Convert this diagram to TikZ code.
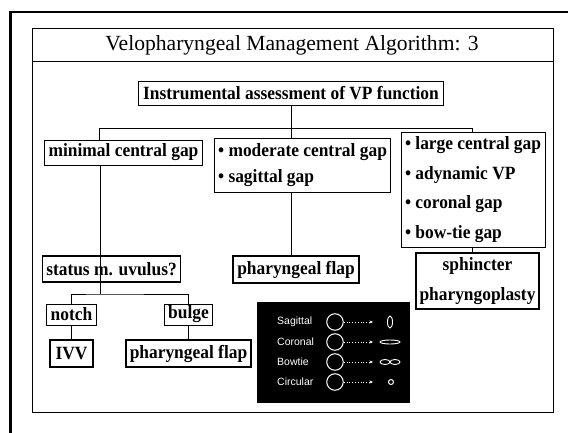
\documentclass[tikz,border=0pt]{standalone}
\usepackage{fontspec}
\setmainfont{Liberation Serif}
\newfontfamily\boxfont[FakeStretch=0.93]{Liberation Serif}
\newfontfamily\legendfont{Liberation Sans}
\usetikzlibrary{shapes.geometric, calc, arrows.meta}

\begin{document}
\begin{tikzpicture}[x=1pt,y=-1pt,
  box/.style={draw,line width=0.9pt,inner xsep=4pt,inner ysep=0pt,
    font=\boxfont\bfseries\fontsize{18.7}{26}\selectfont},
  heavybox/.style={box,line width=2pt},
  legend/.style={anchor=west,text=white,inner sep=0pt,font=\legendfont\fontsize{10.5}{12}\selectfont}]
  \useasboundingbox (0,0) rectangle (568,433);

  % frames
  \draw[line width=3pt] (10,433) -- (10,12);
  \draw[line width=2pt] (9,12) -- (568,12);
  \draw[line width=0.9pt] (32,28) rectangle (553,412);
  \draw[line width=0.9pt] (32,61) -- (553,61);
  \node (title) [font=\fontsize{21.6}{24}\selectfont] at (292,45) {Velopharyngeal Management Algorithm: 3};

  % boxes
  \node (instr) [box,minimum height=24pt,inner xsep=5pt] at (291,93) {Instrumental assessment of VP function};
  \node (min) [box,minimum height=25pt] at (123.5,152.5) {minimal central gap};
  \node (mod) [box,align=left,minimum height=54pt] at (302.5,165)
    {\textbullet\ moderate central gap\\ \textbullet\ sagittal gap};
  \node (lg) [box,align=left,minimum height=115pt,font=\boxfont\bfseries\fontsize{18.7}{29.5}\selectfont] at (473,189.5)
    {\textbullet\ large central gap\\ \textbullet\ adynamic VP\\ \textbullet\ coronal gap\\ \textbullet\ bow-tie gap};
  \node (sph) [heavybox,align=center,minimum height=56pt,font=\boxfont\bfseries\fontsize{18.7}{30}\selectfont] at (477.5,281)
    {sphincter\\ pharyngoplasty};
  \node (pf1) [heavybox,minimum height=27pt] at (296,269.5) {pharyngeal flap};
  \node (st) [box,line width=1.5pt,minimum height=26pt] at (111.5,269) {status m. uvulus?};
  \node (notch) [box,minimum height=21pt,inner xsep=4pt] at (71.5,314.5) {notch};
  \node (bulge) [box,minimum height=21pt,inner xsep=4pt] at (188.5,314.5) {bulge};
  \node (ivv) [heavybox,minimum height=27pt,inner xsep=6pt] at (71.5,353.5) {IVV};
  \node (pf2) [heavybox,minimum height=27pt] at (188.5,353.5) {pharyngeal flap};

  % connectors
  \coordinate (bl) at (99,128);
  \coordinate (br) at (472,128);
  \coordinate (sj) at (100,294);
  \draw[line width=0.9pt] (instr.south) -- (instr.south |- mod.north);
  \draw[line width=0.9pt] (min.north -| bl) -- (bl) -- (br) -- (lg.north -| br);
  \draw[line width=0.9pt] (mod.south -| instr.south) -- (pf1.north -| instr.south);
  \draw[line width=0.9pt] (lg.south -| br) -- (sph.north -| br);
  \draw[line width=0.9pt] (min.south -| sj) -- (st.south -| sj);
  \draw[line width=0.9pt] (st.south -| sj) -- (sj);
  \draw[line width=0.9pt] (notch.north) |- (sj) -| (bulge.north);
  \draw[line width=0.9pt] (notch) -- (ivv);
  \draw[line width=0.9pt] (bulge) -- (pf2);

  % legend of gap shapes
  \node (key) [fill=black,minimum width=153pt,minimum height=101pt,inner sep=0pt] at (333.5,352.5) {};
  \foreach \name [count=\i] in {Sagittal,Coronal,Bowtie,Circular}{
    \node (lab\i) [legend] at (277,302+20*\i) {\name};
    \node (c\i) [circle,draw=white,line width=1pt,minimum size=16.5pt,inner sep=0pt] at (335,302+20*\i) {};
    \coordinate (e\i) at (373,302+20*\i);
    \draw[white,dotted,line width=0.8pt,-{Stealth[length=3.5pt,width=3pt]}] (c\i) -- (e\i);
  }
  \draw[white,line width=0.9pt] (390,322) ellipse [x radius=2.5, y radius=6];
  \draw[white,line width=0.9pt] (390,342) ellipse [x radius=10, y radius=2];
  \draw[white,line width=0.9pt] (385,362) ellipse [x radius=5, y radius=2.5];
  \draw[white,line width=0.9pt] (395,362) ellipse [x radius=5, y radius=2.5];
  \draw[white,line width=1pt] (391,382) circle [radius=2.5];
\end{tikzpicture}
\end{document}
